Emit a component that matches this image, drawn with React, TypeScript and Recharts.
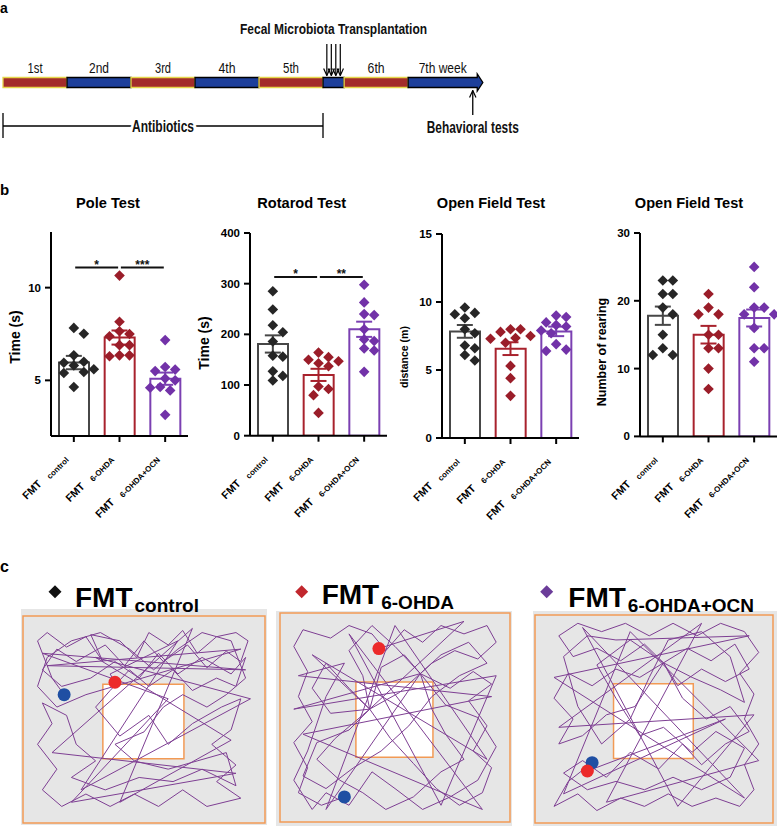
import {
  Bar,
  Cell,
  ComposedChart,
  ErrorBar,
  Line,
  ReferenceArea,
  ReferenceDot,
  ReferenceLine,
  Scatter,
  XAxis,
  YAxis,
} from 'recharts'

const SANS = 'Arial, "Liberation Sans", Helvetica, sans-serif'
const NARROW = '"Liberation Sans Narrow", "Arial Narrow", Arial, "Liberation Sans", sans-serif'

// ---- a: study timeline, in weeks ----
const WEEK_LABELS = ['1st', '2nd', '3rd', '4th', '5th', '', '6th', '7th week']
const WEEK_SPANS = [1, 1, 1, 1, 1, 0.33, 1, 1.08]
const WEEK_FILL = ['red', 'blue', 'red', 'blue', 'red', 'blue', 'red', 'blue']
const FMT_WEEKS = [5.06, 5.13, 5.2, 5.27]
const ANTIBIOTIC_WEEKS = [0, 5]
const BEHAVIOR_WEEK = 7.34

// ---- b: behaviour, 10 mice per group ----
const GROUPS = ['control', '6-OHDA', '6-OHDA+OCN']

const POLE_MEAN = [5.96, 7.31, 5.09]
const POLE_SEM = [0.36, 0.38, 0.33]
const POLE_CONTROL = [7.83, 7.51, 6.35, 6.0, 5.95, 5.8, 5.6, 5.45, 5.4, 4.64]
const POLE_OHDA = [10.65, 8.16, 7.65, 7.5, 7.38, 6.9, 6.9, 6.35, 6.35, 6.3]
const POLE_OCN = [7.17, 5.72, 5.58, 5.5, 5.1, 5.0, 4.64, 4.6, 4.46, 3.14]

const ROTAROD_MEAN = [181, 120, 210]
const ROTAROD_SEM = [17, 12, 15]
const ROTAROD_CONTROL = [285, 249, 218, 204, 186, 158, 156, 127, 118, 109]
const ROTAROD_OHDA = [164, 155, 150, 147, 143, 137, 97, 92, 80, 45]
const ROTAROD_OCN = [298, 263, 240, 238, 210, 190, 187, 172, 168, 126]

const DIST_MEAN = [7.84, 6.57, 7.84]
const DIST_SEM = [0.47, 0.47, 0.35]
const DIST_CONTROL = [9.6, 9.2, 9.1, 8.8, 8.0, 7.7, 6.8, 6.6, 6.1, 5.7]
const DIST_OHDA = [8.0, 8.0, 7.8, 7.5, 7.35, 7.3, 7.0, 5.3, 4.4, 3.1]
const DIST_OCN = [9.0, 8.9, 8.5, 8.3, 8.2, 7.9, 7.7, 6.9, 6.5, 6.4]

const REAR_MEAN = [17.8, 15.0, 17.46]
const REAR_SEM = [1.35, 1.3, 1.25]
const REAR_CONTROL = [23, 23, 21, 21, 19, 18, 15, 13, 12, 12]
const REAR_OHDA = [21, 19, 18, 18, 15, 15, 13, 13, 10, 7]
const REAR_OCN = [25, 22, 19, 19, 18, 18, 16, 13, 13, 11]

const POLE_SIG = [
  { from: 0, to: 1, y: 11.08, label: '*' },
  { from: 1, to: 2, y: 11.08, label: '***' },
]
const ROTAROD_SIG = [
  { from: 0, to: 1, y: 313, label: '*' },
  { from: 1, to: 2, y: 313, label: '**' },
]

// ---- c: open field tracks, arena in % (x right, y down) ----
const CENTER_ZONE = [33, 66.5, 33, 69]
const TRACK_CONTROL = [
  [17, 38], [12, 30], [6, 12], [10, 8], [18, 15], [26, 10], [33, 22], [28, 9], [40, 12], [47, 20],
  [52, 8], [60, 14], [66, 7], [72, 18], [80, 10], [88, 8], [93, 12], [90, 22], [84, 17], [76, 25],
  [68, 14], [58, 22], [50, 12], [42, 24], [34, 14], [22, 22], [14, 16], [8, 26], [16, 34], [28, 30],
  [38, 22], [48, 30], [56, 18], [64, 28], [74, 20], [86, 28], [92, 20], [88, 34], [80, 30], [70, 36],
  [62, 26], [52, 34], [44, 26], [36, 36], [30, 44], [40, 58], [52, 48], [60, 62], [70, 52], [82, 44],
  [90, 40], [86, 55], [78, 62], [88, 72], [80, 80], [90, 88], [76, 92], [66, 84], [56, 92], [46, 86],
  [36, 92], [26, 86], [16, 92], [8, 84], [14, 74], [6, 62], [12, 52], [8, 42], [18, 48], [22, 62],
  [30, 70], [20, 78], [34, 84], [48, 78], [62, 80], [74, 74], [88, 82], [84, 66], [72, 70], [60, 74],
  [46, 70], [38, 62], [50, 56], [58, 44], [66, 38], [76, 44], [84, 38], [92, 30], [86, 12], [74, 8],
  [64, 16], [54, 26], [44, 16], [32, 8], [20, 12], [10, 20], [6, 34], [14, 44], [26, 38], [90, 16],
  [10, 24], [92, 26], [8, 18], [60, 40], [20, 90], [88, 76], [12, 66], [70, 6], [40, 90], [86, 60],
  [30, 20], [94, 40], [24, 84], [64, 12], [36, 28], [38, 32],
]
const TRACK_OHDA = [
  [28, 88], [18, 92], [8, 86], [12, 74], [6, 62], [14, 52], [8, 40], [12, 28], [6, 16], [10, 8],
  [22, 12], [30, 6], [40, 10], [46, 18], [54, 8], [62, 14], [70, 6], [80, 10], [90, 6], [94, 14],
  [86, 22], [76, 18], [66, 24], [61, 29], [54, 20], [44, 26], [39, 46], [30, 36], [20, 24], [14, 36],
  [22, 48], [39, 46], [48, 60], [58, 72], [68, 84], [78, 92], [88, 86], [92, 74], [84, 66], [90, 54],
  [82, 42], [92, 34], [84, 28], [74, 36], [61, 29], [66, 46], [72, 58], [80, 70], [70, 76], [58, 88],
  [46, 94], [36, 86], [26, 80], [16, 70], [24, 60], [39, 46], [52, 38], [61, 29], [70, 20], [82, 14],
  [90, 24], [78, 30], [66, 40], [56, 54], [44, 66], [32, 74], [20, 84], [10, 78], [16, 62], [30, 56],
  [39, 46], [36, 30], [30, 18], [40, 6], [50, 16], [61, 29], [72, 44], [86, 50], [94, 64], [86, 80],
  [74, 88], [62, 94], [50, 84], [40, 76], [30, 92], [20, 86], [14, 94], [6, 80], [12, 66], [20, 40],
  [28, 24], [8, 30], [92, 40], [10, 58], [88, 94], [30, 10], [70, 92], [94, 30], [6, 46], [61, 29],
  [20, 94], [50, 6], [90, 70], [14, 20], [39, 46], [80, 4], [43, 17],
]
const TRACK_OCN = [
  [24, 71], [14, 80], [8, 92], [18, 86], [26, 94], [36, 88], [46, 92], [56, 86], [66, 92], [76, 88],
  [86, 92], [92, 84], [88, 72], [94, 62], [88, 50], [92, 38], [86, 28], [94, 18], [88, 8], [78, 4],
  [68, 10], [58, 4], [48, 10], [38, 4], [28, 8], [18, 4], [10, 10], [16, 20], [26, 16], [36, 22],
  [46, 14], [54, 23], [64, 16], [74, 22], [84, 14], [90, 26], [80, 32], [70, 26], [60, 34], [54, 23],
  [44, 30], [34, 26], [24, 34], [14, 28], [8, 40], [16, 50], [10, 62], [20, 58], [30, 48], [42, 44],
  [54, 23], [62, 40], [72, 50], [82, 44], [90, 56], [80, 62], [70, 72], [62, 62], [52, 74], [40, 66],
  [30, 78], [20, 70], [12, 76], [22, 84], [34, 80], [46, 84], [58, 78], [70, 84], [82, 78], [88, 64],
  [76, 56], [66, 66], [54, 54], [44, 58], [34, 40], [26, 24], [40, 12], [54, 23], [66, 30], [78, 36],
  [88, 42], [82, 20], [70, 8], [56, 12], [48, 30], [40, 50], [28, 62], [18, 44], [12, 20], [22, 10],
  [34, 12], [90, 10], [8, 30], [88, 88], [20, 6], [60, 92], [92, 48], [10, 54], [70, 4], [30, 90],
  [94, 70], [40, 8], [12, 86], [80, 50], [22, 75],
]
const START_DOTS = [[17, 38], [28, 88], [24, 71]]
const END_DOTS = [[38, 32], [43, 17], [22, 75]]

// ---- styles ----
const BAR_COLORS = ['#474747', '#a8222d', '#7b40b2']
const DOT_COLORS = ['#262626', '#9a1d29', '#7232a8']
const TITLE_COLORS = ['#111', '#c1272d', '#6b3c99']
const SEG_COLORS: Record<string, string> = { red: '#a32c2a', blue: '#1d3f9b' }
const ORANGE = '#f29a55'
const TRACK_COLOR = '#7e3f93'
const AXIS_LINE = { stroke: '#000', strokeWidth: 2 }
const Y_TICK = { fontSize: 11.5, fontWeight: 700, fill: '#000', fontFamily: SANS }

const PLOT_W = 137
const Y_AXIS_W = 46
const M_TOP = 12
const X_AXIS_H = 95

const PANELS = [
  { title: 'Pole Test', yLabel: 'Time (s)', domain: [2, 13], ticks: [5, 10], mean: POLE_MEAN, sem: POLE_SEM, samples: [POLE_CONTROL, POLE_OHDA, POLE_OCN], sig: POLE_SIG },
  { title: 'Rotarod Test', yLabel: 'Time (s)', domain: [0, 400], ticks: [0, 100, 200, 300, 400], mean: ROTAROD_MEAN, sem: ROTAROD_SEM, samples: [ROTAROD_CONTROL, ROTAROD_OHDA, ROTAROD_OCN], sig: ROTAROD_SIG },
  { title: 'Open Field Test', yLabel: 'distance (m)', domain: [0, 15], ticks: [0, 5, 10, 15], mean: DIST_MEAN, sem: DIST_SEM, samples: [DIST_CONTROL, DIST_OHDA, DIST_OCN], sig: [] },
  { title: 'Open Field Test', yLabel: 'Number of rearing', domain: [0, 30], ticks: [0, 10, 20, 30], mean: REAR_MEAN, sem: REAR_SEM, samples: [REAR_CONTROL, REAR_OHDA, REAR_OCN], sig: [] },
]
const PANEL_BOX = [
  { axisX: 51, top: 232, bottom: 436, titleX: 108, labelX: 15, labelY: 337, labelSize: 14 },
  { axisX: 250, top: 233.3, bottom: 436, titleX: 301.7, labelX: 203.5, labelY: 343, labelSize: 14 },
  { axisX: 442.3, top: 234.3, bottom: 438.3, titleX: 491, labelX: 403.5, labelY: 357, labelSize: 10.5 },
  { axisX: 640, top: 233.3, bottom: 436.7, titleX: 689, labelX: 602, labelY: 352, labelSize: 12.5 },
]
const ARENA_BOX = [
  { left: 21, top: 609, w: 246, h: 216, margin: { top: 7, left: 2, right: 2, bottom: 2 } },
  { left: 276, top: 611, w: 236, h: 215, margin: { top: 2, left: 4, right: 2, bottom: 4 } },
  { left: 533, top: 611, w: 244, h: 215, margin: { top: 4, left: 2, right: 4, bottom: 3 } },
]
const ARENA_TITLE = [
  { dx: 55, fmt: 75, base: 606.5 },
  { dx: 301.7, fmt: 321.7, base: 603.5 },
  { dx: 546.7, fmt: 568.3, base: 606.5 },
]
const WEEK_LABEL_W = [15, 20, 16, 17, 16, 0, 17, 48]

// spread points sideways like a scatter-dot plot
function swarm(values: number[], center: number, pxPerY: number, pxPerCat: number) {
  const placed: { dx: number; py: number }[] = []
  return values.map((v) => {
    const py = v * pxPerY
    let dx = 0
    for (let k = 0; k < 15; k++) {
      const cand = k === 0 ? 0 : (k % 2 ? 1 : -1) * Math.ceil(k / 2) * 5
      if (placed.every((p) => Math.hypot(p.dx - cand, p.py - py) >= 9)) {
        dx = cand
        break
      }
    }
    placed.push({ dx, py })
    return { x: center + dx / pxPerCat, y: v }
  })
}

const diamond = (color: string, r: number) => (p: any) =>
  <path d={`M${p.cx},${p.cy - r}L${p.cx + r},${p.cy}L${p.cx},${p.cy + r}L${p.cx - r},${p.cy}Z`} fill={color} />

function TextAt(props: any) {
  const { viewBox, text, size, weight = 700, family = SANS, fit, dy = 0, halo } = props
  if (!viewBox) return null
  const x = viewBox.x + (viewBox.width || 0) / 2
  const y = viewBox.y + (viewBox.height || 0) / 2 + dy
  return (
    <text
      x={x}
      y={y}
      textAnchor="middle"
      fontSize={size}
      fontWeight={weight}
      fontFamily={family}
      textLength={fit || undefined}
      lengthAdjust={fit ? 'spacingAndGlyphs' : undefined}
      fill="#111"
      stroke={halo ? '#fff' : 'none'}
      strokeWidth={halo ? 7 : 0}
      paintOrder="stroke"
    >
      {text}
    </text>
  )
}

function GroupTick(props: any) {
  const { x, y, payload } = props
  return (
    <text transform={`translate(${x - 6},${y + 15}) rotate(-45)`} textAnchor="end" fontFamily={SANS} fontWeight={700} fill="#000">
      <tspan fontSize={10.7}>FMT</tspan>
      <tspan fontSize={8} dx={9} dy={2}>{payload.value}</tspan>
    </text>
  )
}

function Timeline() {
  const starts = WEEK_SPANS.map((_, i) => WEEK_SPANS.slice(0, i).reduce((a, b) => a + b, 0))
  const last = WEEK_SPANS.length - 1
  const arrowSeg = (p: any) => {
    const { x, y, width, height } = p
    const end = x + width
    return (
      <path
        d={`M${x},${y}H${end}V${y - 3.5}L${end + 5.6},${y + height / 2}L${end},${y + height + 3.5}V${y + height}H${x}Z`}
        fill={SEG_COLORS.blue}
        stroke="#000"
        strokeWidth={1.3}
      />
    )
  }
  return (
    <div style={{ position: 'absolute', left: 0, top: 0 }}>
      <ComposedChart width={778} height={150} data={FMT_WEEKS.map((w) => ({ x: w }))} margin={{ top: 0, right: 263, bottom: 0, left: 3 }}>
        <XAxis type="number" dataKey="x" domain={[0, 8]} hide allowDataOverflow />
        <YAxis type="number" domain={[0, 150]} reversed hide allowDataOverflow />
        {WEEK_SPANS.map((w, i) => (
          <ReferenceArea
            key={i}
            x1={starts[i]}
            x2={starts[i] + w}
            y1={77.5}
            y2={87.5}
            fill={SEG_COLORS[WEEK_FILL[i]]}
            fillOpacity={1}
            stroke={WEEK_FILL[i] === 'red' ? '#e5d64a' : '#000'}
            strokeWidth={1.3}
            shape={i === last ? arrowSeg : undefined}
            label={WEEK_LABELS[i] ? <TextAt text={WEEK_LABELS[i]} size={14.5} weight={400} family={NARROW} fit={WEEK_LABEL_W[i]} dy={-9.5} /> : undefined}
          />
        ))}
        {FMT_WEEKS.map((w) => (
          <ReferenceLine key={w} segment={[{ x: w, y: 44 }, { x: w, y: 75.5 }]} stroke="#000" strokeWidth={1.2} markerEnd="url(#arrowV)" />
        ))}
        <ReferenceDot
          x={FMT_WEEKS.reduce((a, b) => a + b, 0) / FMT_WEEKS.length}
          y={34}
          r={0}
          fill="none"
          stroke="none"
          label={<TextAt text="Fecal Microbiota Transplantation" size={14} family={NARROW} fit={187} />}
        />
        <ReferenceLine
          segment={[{ x: ANTIBIOTIC_WEEKS[0], y: 126 }, { x: ANTIBIOTIC_WEEKS[1], y: 126 }]}
          stroke="#000"
          strokeWidth={1.3}
          label={<TextAt text="Antibiotics" size={16} family={NARROW} fit={62} dy={5.5} halo />}
        />
        {ANTIBIOTIC_WEEKS.map((w) => (
          <ReferenceLine key={'ab' + w} segment={[{ x: w, y: 113 }, { x: w, y: 138 }]} stroke="#000" strokeWidth={1.3} />
        ))}
        <ReferenceLine segment={[{ x: BEHAVIOR_WEEK, y: 115 }, { x: BEHAVIOR_WEEK, y: 90.5 }]} stroke="#000" strokeWidth={1.3} markerEnd="url(#arrowV)" />
        <ReferenceDot
          x={BEHAVIOR_WEEK}
          y={132.5}
          r={0}
          fill="none"
          stroke="none"
          label={<TextAt text="Behavioral tests" size={16} family={NARROW} fit={92} />}
        />
      </ComposedChart>
    </div>
  )
}

function BarPanel({ spec, box }: { spec: (typeof PANELS)[number]; box: (typeof PANEL_BOX)[number] }) {
  const plotH = box.bottom - box.top
  const [lo, hi] = spec.domain
  const pxPerY = plotH / (hi - lo)
  const pxPerCat = PLOT_W / GROUPS.length
  const bars = GROUPS.map((g, i) => ({ name: g, mean: spec.mean[i] }))
  return (
    <div style={{ position: 'absolute', left: box.axisX - Y_AXIS_W, top: box.top - M_TOP }}>
      <ComposedChart
        width={Y_AXIS_W + PLOT_W + 4}
        height={M_TOP + plotH + X_AXIS_H}
        data={bars}
        margin={{ top: M_TOP, right: 4, bottom: 0, left: 0 }}
      >
        <XAxis xAxisId="cat" dataKey="name" height={X_AXIS_H} interval={0} tick={<GroupTick />} tickSize={6} axisLine={AXIS_LINE} tickLine={AXIS_LINE} />
        <XAxis xAxisId="num" type="number" dataKey="x" domain={[0.5, 3.5]} hide allowDataOverflow />
        <YAxis
          width={Y_AXIS_W}
          type="number"
          domain={spec.domain}
          ticks={spec.ticks}
          interval={0}
          allowDataOverflow
          tickSize={6}
          tickMargin={4}
          axisLine={AXIS_LINE}
          tickLine={AXIS_LINE}
          tick={Y_TICK}
        />
        <Bar xAxisId="cat" dataKey="mean" barSize={30} isAnimationActive={false}>
          {bars.map((b, i) => (
            <Cell key={b.name} fill="#fff" stroke={BAR_COLORS[i]} strokeWidth={2} />
          ))}
        </Bar>
        {spec.samples.map((vals, i) => (
          <Scatter
            key={'pts' + i}
            xAxisId="num"
            dataKey="y"
            data={swarm(vals, i + 1, pxPerY, pxPerCat)}
            shape={diamond(DOT_COLORS[i], 5.3)}
            isAnimationActive={false}
          />
        ))}
        {spec.mean.map((m, i) => (
          <Scatter
            key={'err' + i}
            xAxisId="num"
            dataKey="y"
            data={[{ x: i + 1, y: m, sem: spec.sem[i] }]}
            shape={() => <g />}
            isAnimationActive={false}
          >
            <ErrorBar dataKey="sem" direction="y" width={8} stroke={BAR_COLORS[i]} strokeWidth={2} />
          </Scatter>
        ))}
        {spec.sig.map((s) => (
          <ReferenceLine
            key={s.label}
            xAxisId="num"
            segment={[{ x: s.from + 1.03, y: s.y }, { x: s.to + 0.97, y: s.y }]}
            stroke="#111"
            strokeWidth={2}
            label={<TextAt text={s.label} size={12} dy={1} />}
          />
        ))}
      </ComposedChart>
    </div>
  )
}

function Arena({ track, start, end, box }: { track: number[][]; start: number[]; end: number[]; box: (typeof ARENA_BOX)[number] }) {
  const data = track.map(([x, y]) => ({ x, y }))
  const [zx1, zx2, zy1, zy2] = CENTER_ZONE
  return (
    <div style={{ position: 'absolute', left: box.left, top: box.top, width: box.w, height: box.h, background: '#e6e6e6' }}>
      <ComposedChart width={box.w} height={box.h} data={data} margin={box.margin}>
        <XAxis type="number" dataKey="x" domain={[0, 100]} hide allowDataOverflow />
        <YAxis type="number" domain={[0, 100]} reversed hide allowDataOverflow />
        <ReferenceArea x1={0} x2={100} y1={0} y2={100} fill="none" stroke={ORANGE} strokeWidth={1.5} />
        <ReferenceArea x1={zx1} x2={zx2} y1={zy1} y2={zy2} fill="#fff" fillOpacity={1} stroke={ORANGE} strokeWidth={1.5} />
        <Line dataKey="y" type="linear" stroke={TRACK_COLOR} strokeWidth={1} dot={false} isAnimationActive={false} />
        <ReferenceDot x={start[0]} y={start[1]} r={6.5} fill="#1f4fa3" stroke="none" />
        <ReferenceDot x={end[0]} y={end[1]} r={6.5} fill="#ec2a2a" stroke="none" />
      </ComposedChart>
    </div>
  )
}

export default function App() {
  const tracks = [TRACK_CONTROL, TRACK_OHDA, TRACK_OCN]
  return (
    <div style={{ position: 'absolute', left: 0, top: 0, width: 778, height: 826, background: '#fff', overflow: 'hidden', fontFamily: SANS }}>
      <svg width={0} height={0} style={{ position: 'absolute' }}>
        <defs>
          <marker id="arrowV" viewBox="0 0 8 8" refX={7.5} refY={4} markerWidth={8} markerHeight={8} orient="auto" markerUnits="userSpaceOnUse">
            <path d="M0.5,0.8L7.5,4L0.5,7.2" fill="none" stroke="#000" strokeWidth={1.2} />
          </marker>
        </defs>
      </svg>
      <Timeline />
      {PANELS.map((p, i) => (
        <BarPanel key={i} spec={p} box={PANEL_BOX[i]} />
      ))}
      {tracks.map((t, i) => (
        <Arena key={i} track={t} start={START_DOTS[i]} end={END_DOTS[i]} box={ARENA_BOX[i]} />
      ))}
      <svg width={778} height={826} style={{ position: 'absolute', left: 0, top: 0, pointerEvents: 'none' }} fontFamily={SANS} fontWeight={700}>
        <text x={0} y={12.5} fontSize={14}>a</text>
        <text x={0} y={195} fontSize={15}>b</text>
        <text x={0} y={572} fontSize={16}>c</text>
        {PANELS.map((p, i) => (
          <g key={i}>
            <text x={PANEL_BOX[i].titleX} y={208} fontSize={14.6} textAnchor="middle">{p.title}</text>
            <text
              transform={`translate(${PANEL_BOX[i].labelX},${PANEL_BOX[i].labelY}) rotate(-90)`}
              fontSize={PANEL_BOX[i].labelSize}
              textAnchor="middle"
              dominantBaseline="central"
            >
              {p.yLabel}
            </text>
          </g>
        ))}
        {GROUPS.map((g, i) => {
          const t = ARENA_TITLE[i]
          const r = 6.5
          return (
            <g key={g}>
              <path d={`M${t.dx},${591.7 - r}L${t.dx + r},591.7L${t.dx},${591.7 + r}L${t.dx - r},591.7Z`} fill={TITLE_COLORS[i]} />
              <text x={t.fmt} y={t.base} fill="#000">
                <tspan fontSize={28}>FMT</tspan>
                <tspan fontSize={19} dx={2} dy={5}>{g}</tspan>
              </text>
            </g>
          )
        })}
      </svg>
    </div>
  )
}
